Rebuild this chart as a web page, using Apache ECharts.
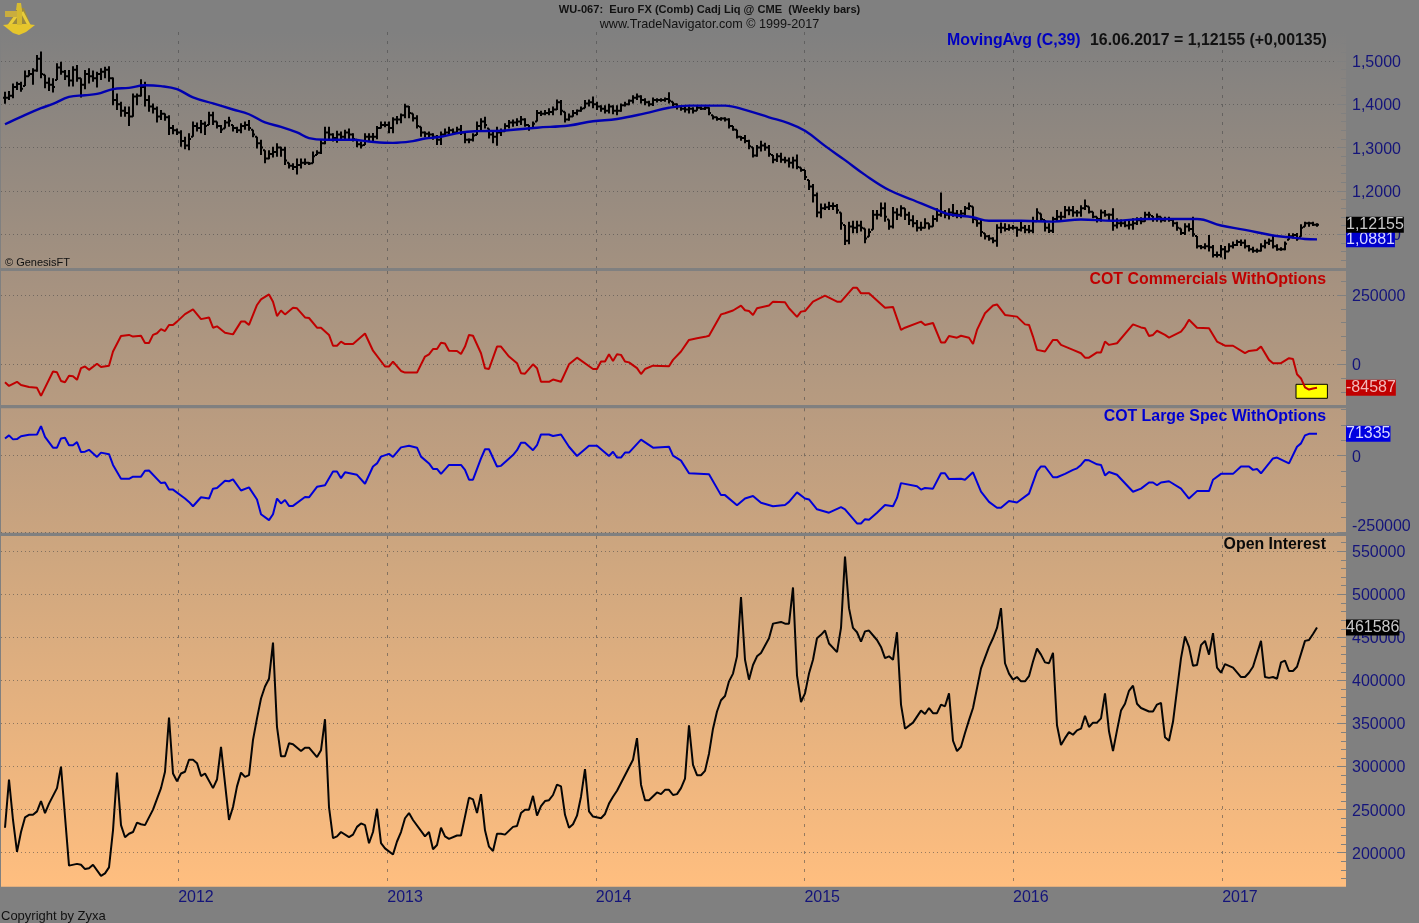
<!DOCTYPE html>
<html>
<head>
<meta charset="utf-8">
<title>Euro FX COT</title>
<script src="https://cdn.jsdelivr.net/npm/echarts@6/dist/echarts.min.js"></script>
<style>
    html, body {margin: 0; padding: 0; background: #808080;}
    #chartWrap {width: 1419px; height: 923px;}
</style>
</head>
<body>
<div id="chartWrap"></div>
<script>
// weekly bars, week 0 = 2011-03-04, week 328 = 2017-06-16. prices in 1/1000
const priceHigh = [
    1429,1431,1448,1452,1452,1478,1479,1483,1514,1522,1468,1462,1460,1495,1498,1479,1479,1488,1491,1460,
    1479,1483,1478,1475,1483,1487,1488,1462,1425,1406,1395,1395,1425,1425,1458,1452,1421,1402,1395,1387,
    1379,1375,1352,1344,1340,1325,1333,1360,1358,1364,1360,1383,1383,1360,1352,1364,1371,1352,1348,1356,
    1360,1364,1341,1325,1318,1294,1294,1302,1310,1302,1302,1265,1264,1275,1275,1275,1267,1291,1294,1318,
    1348,1348,1333,1339,1337,1341,1344,1333,1318,1314,1333,1333,1334,1350,1360,1360,1360,1370,1373,1379,
    1401,1396,1379,1375,1348,1337,1337,1333,1329,1337,1344,1348,1344,1348,1352,1337,1321,1333,1360,1368,
    1371,1344,1337,1348,1344,1356,1364,1365,1368,1373,1368,1352,1360,1387,1385,1387,1391,1395,1411,1410,
    1383,1379,1387,1388,1395,1410,1411,1418,1406,1398,1398,1401,1398,1398,1402,1406,1411,1421,1425,1421,
    1414,1408,1416,1414,1414,1416,1428,1406,1402,1395,1395,1395,1393,1396,1395,1395,1393,1375,1371,1370,
    1370,1368,1350,1341,1327,1329,1318,1301,1306,1316,1311,1306,1283,1287,1288,1279,1277,1279,1284,1254,
    1248,1225,1216,1196,1171,1171,1175,1173,1170,1150,1121,1129,1131,1131,1131,1113,1113,1156,1156,1173,
    1173,1134,1163,1160,1167,1160,1152,1144,1133,1129,1137,1125,1144,1160,1196,1156,1160,1170,1156,1156,
    1165,1173,1164,1134,1133,1102,1098,1093,1123,1127,1125,1123,1121,1117,1133,1121,1121,1140,1160,1148,
    1133,1125,1140,1156,1152,1165,1164,1165,1156,1167,1180,1164,1152,1140,1157,1156,1148,1160,1137,1134,
    1133,1133,1137,1139,1139,1152,1152,1142,1148,1140,1140,1140,1137,1129,1113,1125,1125,1140,1096,1075,
    1079,1098,1075,1060,1075,1073,1079,1083,1087,1088,1088,1075,1071,1067,1079,1087,1090,1098,1077,1070,
    1083,1102,1102,1103,1123,1129,1129,1129,1125
];
const priceLow = [
    1401,1410,1414,1433,1429,1442,1465,1445,1475,1460,1437,1431,1427,1456,1468,1456,1441,1441,1452,1416,
    1435,1448,1452,1439,1456,1460,1452,1398,1387,1371,1371,1350,1371,1398,1418,1395,1383,1379,1358,1364,
    1362,1329,1331,1329,1302,1296,1294,1325,1337,1333,1329,1352,1352,1344,1334,1344,1348,1337,1334,1333,
    1341,1339,1324,1298,1283,1264,1273,1277,1279,1279,1260,1252,1248,1238,1252,1260,1260,1264,1283,1285,
    1308,1318,1314,1311,1316,1319,1318,1314,1301,1298,1306,1314,1314,1319,1344,1347,1333,1333,1354,1356,
    1368,1368,1360,1344,1325,1324,1324,1318,1306,1306,1325,1329,1329,1333,1329,1310,1310,1314,1329,1337,
    1344,1321,1310,1304,1327,1337,1344,1348,1350,1352,1348,1339,1344,1360,1373,1375,1375,1375,1387,1375,
    1358,1362,1371,1375,1383,1391,1395,1391,1387,1383,1379,1379,1377,1375,1383,1395,1398,1402,1410,1402,
    1398,1395,1396,1404,1406,1406,1402,1396,1388,1385,1381,1379,1379,1385,1387,1387,1375,1365,1362,1362,
    1360,1344,1339,1321,1316,1310,1296,1277,1279,1291,1293,1279,1264,1267,1265,1264,1254,1252,1250,1244,
    1225,1202,1173,1139,1137,1156,1156,1156,1147,1110,1075,1077,1102,1102,1106,1079,1094,1110,1134,1140,
    1129,1110,1113,1133,1140,1133,1121,1116,1106,1108,1113,1111,1117,1129,1140,1137,1134,1140,1137,1137,
    1144,1156,1125,1117,1094,1088,1085,1079,1071,1102,1106,1108,1110,1094,1106,1102,1102,1102,1129,1129,
    1106,1103,1103,1129,1133,1137,1144,1140,1140,1140,1156,1148,1137,1127,1129,1140,1133,1108,1113,1117,
    1116,1111,1110,1121,1123,1129,1133,1129,1129,1127,1129,1129,1117,1108,1098,1098,1106,1094,1067,1065,
    1065,1060,1046,1046,1046,1042,1060,1067,1073,1073,1067,1060,1057,1057,1060,1067,1075,1067,1062,1062,
    1063,1087,1090,1085,1094,1117,1117,1119,1117
];
const priceClose = [
    1415,1420,1440,1447,1436,1465,1470,1478,1505,1470,1450,1445,1440,1485,1475,1465,1455,1480,1460,1445,
    1470,1465,1460,1470,1475,1480,1460,1410,1400,1385,1380,1372,1418,1420,1440,1410,1395,1390,1372,1378,
    1370,1345,1340,1335,1315,1305,1320,1350,1345,1355,1350,1375,1360,1350,1342,1358,1362,1345,1340,1350,
    1352,1345,1330,1310,1300,1275,1285,1290,1300,1295,1270,1258,1255,1260,1265,1265,1263,1280,1288,1310,
    1335,1330,1322,1330,1325,1335,1330,1320,1308,1305,1325,1325,1325,1345,1352,1352,1345,1365,1365,1375,
    1395,1380,1368,1350,1335,1332,1330,1325,1318,1330,1335,1340,1335,1342,1335,1318,1318,1328,1350,1360,
    1352,1330,1325,1335,1338,1350,1358,1358,1360,1365,1352,1345,1355,1380,1378,1380,1382,1388,1405,1385,
    1365,1372,1380,1385,1390,1402,1405,1400,1395,1390,1385,1395,1385,1385,1398,1400,1408,1415,1418,1410,
    1405,1400,1410,1410,1410,1412,1408,1400,1395,1390,1388,1390,1385,1392,1390,1392,1380,1370,1366,1367,
    1365,1350,1342,1325,1322,1315,1303,1282,1300,1305,1300,1285,1272,1280,1272,1270,1265,1270,1255,1248,
    1232,1210,1190,1150,1160,1162,1165,1165,1155,1125,1085,1118,1115,1120,1115,1090,1105,1145,1145,1160,
    1140,1118,1150,1145,1160,1145,1132,1125,1115,1115,1125,1118,1135,1145,1150,1145,1150,1148,1145,1148,
    1160,1165,1135,1125,1105,1095,1090,1085,1115,1115,1112,1115,1115,1110,1115,1110,1108,1130,1150,1135,
    1115,1108,1135,1140,1140,1155,1155,1150,1150,1160,1165,1152,1140,1135,1150,1145,1145,1120,1125,1125,
    1120,1122,1125,1132,1130,1145,1145,1135,1140,1132,1135,1133,1125,1115,1103,1118,1112,1100,1072,1070,
    1072,1070,1052,1052,1065,1060,1072,1075,1082,1080,1072,1065,1062,1062,1072,1080,1085,1072,1065,1065,
    1078,1095,1098,1090,1115,1125,1125,1122,1122
];
// [week, value in 1/1000]
const movingAvgPoints = [
    [0,1354],[4,1371],[9,1391],[12,1401],[16,1417],[20,1421],[23,1424],[27,1435],[31,1438],[35,1444],
    [39,1442],[43,1435],[47,1416],[52,1402],[57,1388],[61,1377],[65,1358],[69,1348],[73,1335],[76,1322],
    [80,1318],[87,1318],[91,1314],[97,1311],[102,1315],[105,1321],[109,1325],[114,1335],[118,1338],
    [124,1339],[133,1346],[141,1351],[147,1361],[153,1366],[160,1379],[166,1392],[171,1397],[180,1397],
    [185,1387],[191,1370],[196,1356],[200,1339],[205,1304],[210,1271],[215,1237],[221,1202],[227,1179],
    [233,1156],[236,1146],[242,1139],[246,1131],[254,1131],[262,1129],[269,1134],[277,1131],[285,1135],
    [298,1135],[304,1120],[310,1110],[317,1097],[322,1092],[325,1089],[328,1088]
];
// [week, contracts in thousands]
const commercialPoints = [
    [0,-65],[1,-78],[3,-63],[4,-75],[6,-82],[8,-85],[9,-114],[12,-26],[13,-29],[14,-60],[15,-65],[16,-41],
    [17,-43],[18,-56],[19,-14],[20,-8],[21,-20],[23,2],[24,-10],[26,-5],[27,46],[29,102],[31,106],[32,100],
    [34,103],[35,77],[36,77],[37,106],[38,112],[39,127],[40,120],[41,142],[42,142],[43,154],[45,181],[47,198],
    [49,163],[51,169],[52,132],[53,137],[55,114],[57,108],[59,154],[60,154],[61,142],[63,214],[64,234],[66,252],
    [67,226],[68,174],[69,194],[70,180],[72,204],[73,202],[75,169],[76,167],[78,132],[79,132],[81,106],[82,67],
    [83,67],[84,82],[85,73],[87,73],[90,111],[92,49],[95,-8],[96,-8],[97,10],[99,-24],[100,-30],[103,-30],
    [105,28],[106,36],[107,55],[108,55],[109,78],[110,75],[111,49],[113,48],[114,37],[115,64],[116,106],[117,103],
    [119,40],[120,-14],[121,-17],[123,64],[124,64],[126,28],[128,4],[129,-32],[130,-34],[132,0],[133,-14],[134,-63],
    [136,-63],[137,-55],[139,-63],[141,0],[143,24],[147,-17],[148,-17],[149,10],[150,10],[151,36],[152,12],[153,36],
    [154,34],[155,10],[156,7],[158,-14],[159,-35],[160,-17],[162,-5],[166,-7],[167,16],[169,46],[171,88],[173,94],
    [175,99],[176,103],[179,180],[180,184],[182,194],[184,212],[185,195],[186,192],[187,178],[188,202],[191,212],
    [192,226],[195,224],[196,202],[198,171],[199,190],[200,192],[202,226],[205,248],[208,226],[209,226],[212,276],
    [213,276],[214,256],[216,256],[220,204],[222,207],[224,124],[225,132],[229,154],[230,142],[232,149],[234,79],
    [235,79],[236,102],[238,96],[239,103],[241,96],[242,73],[243,124],[245,184],[247,212],[248,216],[250,178],
    [253,172],[255,144],[256,142],[257,100],[258,52],[260,46],[262,88],[263,88],[264,70],[267,52],[269,40],[270,24],
    [271,24],[273,43],[274,43],[275,82],[276,70],[278,76],[282,144],[284,133],[285,130],[286,102],[287,106],[288,121],
    [290,106],[291,96],[294,118],[295,136],[296,161],[298,132],[301,130],[303,82],[305,67],[307,67],[310,40],[311,48],
    [313,52],[314,64],[316,16],[317,4],[319,4],[321,22],[322,19],[323,-36],[324,-51],[325,-83],[326,-91],[327,-87],
    [328,-84.587]
];
const largeSpecPoints = [
    [0,56],[1,66],[2,53],[3,54],[4,63],[6,68],[8,69],[9,96],[10,61],[12,26],[13,26],[14,56],[15,58],[16,34],[17,34],
    [18,44],[19,12],[20,13],[21,19],[23,-4],[24,10],[26,5],[27,-30],[29,-75],[31,-75],[32,-68],[34,-68],[35,-49],
    [36,-48],[39,-89],[40,-87],[41,-110],[42,-110],[45,-139],[46,-150],[47,-164],[49,-135],[51,-139],[52,-107],
    [53,-105],[55,-81],[56,-83],[57,-77],[59,-113],[61,-103],[63,-142],[64,-190],[66,-209],[67,-190],[68,-139],
    [69,-155],[70,-144],[71,-163],[72,-163],[75,-134],[76,-135],[78,-101],[80,-96],[82,-51],[83,-51],[84,-73],
    [85,-54],[88,-62],[90,-91],[92,-35],[93,-25],[94,-3],[96,6],[97,-4],[99,27],[101,32],[103,26],[104,-3],[106,-25],
    [107,-43],[108,-43],[109,-59],[111,-30],[114,-30],[115,-46],[116,-78],[117,-78],[119,-9],[120,21],[121,21],
    [123,-35],[124,-33],[127,2],[128,18],[129,42],[130,42],[132,18],[133,34],[134,69],[136,69],[137,64],[139,69],
    [141,29],[143,-1],[146,32],[148,32],[151,-1],[152,13],[153,-6],[154,-6],[155,10],[156,10],[159,52],[162,26],
    [166,29],[167,0],[169,-16],[171,-57],[176,-60],[179,-128],[180,-128],[183,-161],[185,-139],[187,-131],[189,-153],
    [192,-164],[195,-160],[196,-150],[198,-119],[200,-139],[201,-142],[203,-174],[206,-185],[209,-167],[210,-174],
    [213,-220],[214,-220],[215,-206],[216,-208],[218,-185],[220,-160],[222,-164],[223,-137],[224,-89],[228,-99],
    [229,-110],[230,-105],[232,-107],[234,-57],[235,-57],[236,-76],[239,-75],[240,-78],[242,-54],[244,-117],
    [246,-150],[248,-169],[249,-169],[251,-147],[253,-152],[256,-123],[258,-51],[259,-35],[260,-35],[262,-70],
    [263,-70],[265,-59],[267,-46],[268,-41],[269,-30],[270,-14],[271,-15],[273,-28],[274,-30],[275,-64],[276,-53],
    [278,-62],[282,-117],[284,-107],[286,-87],[287,-87],[288,-96],[289,-87],[291,-83],[294,-107],[296,-139],[298,-115],
    [301,-115],[302,-78],[304,-59],[307,-59],[309,-35],[311,-35],[312,-46],[313,-43],[314,-57],[317,-9],[318,-6],
    [321,-25],[323,29],[324,40],[325,66],[326,71],[328,71.335]
];
const openInterestPoints = [
    [0,229],[1,285],[2,238],[3,201],[4,224],[5,241],[6,244],[7,244],[8,248],[9,260],[10,246],[11,257],[12,266],[13,275],
    [14,300],[15,242],[16,185],[18,187],[19,186],[20,181],[21,182],[22,186],[24,173],[25,176],[26,183],[27,226],[28,293],
    [29,232],[30,218],[31,222],[32,224],[33,235],[34,233],[35,232],[37,250],[39,275],[40,294],[41,357],[42,292],[43,283],
    [44,292],[45,294],[46,308],[47,308],[48,304],[49,289],[50,292],[52,275],[53,285],[54,323],[56,238],[57,253],[58,277],
    [59,293],[60,288],[61,290],[62,331],[63,356],[64,379],[65,393],[66,402],[67,444],[68,346],[69,312],[70,312],[71,327],
    [72,326],[74,318],[75,322],[76,322],[78,311],[79,319],[80,355],[81,253],[82,217],[83,219],[84,224],[86,218],[87,221],
    [88,230],[89,234],[90,232],[91,211],[92,224],[93,251],[94,211],[95,205],[97,198],[98,213],[99,224],[100,240],[101,246],
    [102,238],[105,219],[106,224],[107,204],[108,209],[109,229],[110,219],[111,216],[113,220],[114,220],[116,264],[117,262],
    [118,246],[119,268],[120,226],[121,207],[122,202],[123,222],[124,222],[125,221],[127,230],[128,231],[129,246],[130,250],
    [131,250],[132,266],[133,243],[134,254],[135,260],[136,261],[137,267],[138,279],[139,277],[140,244],[141,229],[142,233],
    [143,243],[144,265],[145,297],[146,248],[147,242],[149,240],[150,245],[151,257],[152,265],[153,272],[155,290],[157,308],
    [158,333],[159,279],[160,261],[161,261],[163,270],[164,268],[165,273],[166,273],[167,267],[168,268],[169,275],[170,286],
    [171,348],[172,302],[173,290],[174,290],[175,295],[176,315],[177,344],[178,364],[179,377],[180,382],[181,399],[182,408],
    [183,428],[184,497],[185,424],[186,401],[187,418],[188,428],[189,432],[191,449],[192,466],[194,468],[195,466],[196,466],
    [197,508],[198,406],[199,375],[200,385],[201,408],[202,424],[203,449],[204,453],[205,458],[206,443],[208,433],[209,461],
    [210,544],[211,484],[212,461],[213,456],[214,445],[215,457],[216,458],[218,447],[219,439],[220,426],[221,428],[222,424],
    [223,456],[224,372],[225,344],[227,351],[229,365],[230,361],[231,368],[232,362],[233,362],[234,372],[235,370],[236,385],
    [237,330],[238,318],[239,323],[240,339],[241,354],[242,368],[244,414],[246,439],[247,449],[248,461],[249,484],[250,420],
    [251,408],[252,401],[253,404],[254,399],[255,399],[256,405],[257,422],[258,437],[259,430],[260,421],[261,420],[262,432],
    [263,348],[264,325],[265,333],[266,340],[267,337],[268,342],[269,344],[270,359],[271,346],[272,351],[273,351],[274,356],
    [275,385],[276,341],[277,318],[278,342],[279,365],[280,373],[281,388],[282,394],[283,373],[284,368],[286,364],[287,364],
    [288,372],[289,374],[290,334],[291,330],[292,352],[293,389],[294,426],[295,451],[296,439],[297,417],[298,418],[299,441],
    [300,446],[301,430],[302,455],[303,415],[304,409],[305,419],[307,415],[309,404],[310,404],[311,409],[312,416],[314,446],
    [315,404],[316,403],[317,404],[318,402],[319,421],[320,423],[321,411],[322,411],[323,416],[325,446],[326,447],[327,454],
    [328,461.586]
];
const yearTicks = [2012, 2013, 2014, 2015, 2016, 2017];
const priceTicks = [1.1, 1.2, 1.3, 1.4, 1.5];
const priceMinorTicks = [1.04, 1.06, 1.08, 1.12, 1.14, 1.16, 1.18, 1.22, 1.24, 1.26, 1.28, 1.32, 1.34, 1.36, 1.38, 1.42, 1.44, 1.46, 1.48, 1.52, 1.54, 1.56];
const commercialTicks = [0, 250000];
const commercialMinorTicks = [-100000, -50000, 50000, 100000, 150000, 200000, 300000];
const largeSpecTicks = [-250000, 0];
const largeSpecMinorTicks = [-200000, -150000, -100000, -50000, 50000, 100000, 150000];
const openInterestTicks = [200000, 250000, 300000, 350000, 400000, 450000, 500000, 550000];
const openInterestMinorTicks = [170000, 180000, 190000, 210000, 220000, 230000, 240000, 260000, 270000, 280000, 290000, 310000, 320000, 330000, 340000, 360000, 370000, 380000, 390000, 410000, 420000, 430000, 440000, 460000, 470000, 480000, 490000, 510000, 520000, 530000, 540000, 560000];

const WEEK = 7 * 24 * 3600 * 1000;
const firstWeek = new Date(2011, 2, 4).getTime();
const weekDate = function (w) {
    return firstWeek + w * WEEK;
};
const yearStarts = yearTicks.map(function (y) {
    return new Date(y, 0, 1).getTime();
});

const priceBars = priceHigh.map(function (high, i) {
    const low = priceLow[i] / 1000;
    const close = priceClose[i] / 1000;
    const prev = i > 0 ? priceClose[i - 1] / 1000 : close;
    const open = Math.min(high / 1000, Math.max(low, prev));
    return [weekDate(i), open, close, low, high / 1000];
});

const toLine = function (points, scale) {
    return points.map(function (p) {
        return [weekDate(p[0]), p[1] * scale];
    });
};

function renderPriceBar(params, api) {
    const t = api.value(0);
    const top = api.coord([t, api.value(4)]);
    const bottom = api.coord([t, api.value(3)]);
    const open = api.coord([t, api.value(1)]);
    const close = api.coord([t, api.value(2)]);
    const x = Math.round(top[0]);
    const style = {stroke: '#000', lineWidth: 2, fill: null};
    return {
        type: 'group',
        children: [
            {type: 'line', shape: {x1: x, y1: top[1], x2: x, y2: bottom[1]}, style: style},
            {type: 'line', shape: {x1: x - 2, y1: open[1], x2: x, y2: open[1]}, style: style},
            {type: 'line', shape: {x1: x, y1: close[1], x2: x + 2, y2: close[1]}, style: style}
        ]
    };
}

// background runs gray -> orange over all the panels
function panelFill(top, bottom) {
    const mix = function (y) {
        const k = (y - 32) / 855;
        return 'rgb(' + Math.round(128 + 127 * k) + ',' + Math.round(128 + 62 * k) + ',' + Math.round(128 - k) + ')';
    };
    return {
        type: 'linear', x: 0, y: 0, x2: 0, y2: 1,
        colorStops: [{offset: 0, color: mix(top)}, {offset: 1, color: mix(bottom)}]
    };
}

const panels = [
    {top: 32, bottom: 268, min: 1.0219, max: 1.567, ticks: priceTicks, minor: priceMinorTicks,
        tags: [{v: 1.0881, text: '1,0881', bg: '#0000cc', color: '#d8d8ff'}, {v: 1.12155, text: '1,12155', bg: '#000000', color: '#c8c8c8'}],
        fmt: function (v) { return v.toFixed(4).replace('.', ','); }},
    {top: 271, bottom: 405, min: -146830, max: 336580, ticks: commercialTicks, minor: commercialMinorTicks,
        tags: [{v: -84587, text: '-84587', bg: '#c00000', color: '#f0b8b8'}],
        fmt: function (v) { return String(v); }},
    {top: 408.3, bottom: 532.7, min: -250000, max: 153900, ticks: largeSpecTicks, minor: largeSpecMinorTicks,
        tags: [{v: 71335, text: '71335', bg: '#0000e0', color: '#d8d8ff'}],
        fmt: function (v) { return String(v); }},
    {top: 536, bottom: 886.7, min: 160520, max: 567770, ticks: openInterestTicks, minor: openInterestMinorTicks,
        tags: [{v: 461586, text: '461586', bg: '#000000', color: '#c8c8c8'}],
        fmt: function (v) { return String(v); }}
];

const labelFont = {color: '#14147a', fontSize: 16, fontFamily: 'Liberation Sans'};

const grids = [];
const xAxes = [];
const yAxes = [];
panels.forEach(function (p, idx) {
    grids.push({
        show: true, left: 1, right: 73, top: p.top, height: p.bottom - p.top,
        borderWidth: 0, backgroundColor: panelFill(p.top, p.bottom)
    });
    xAxes.push({
        type: 'value', gridIndex: idx,
        min: weekDate(-1), max: weekDate(335.25),
        axisLine: {show: false},
        axisTick: {show: false, customValues: yearStarts},
        splitLine: {show: true, lineStyle: {color: 'rgba(70,70,70,0.55)', type: [3, 6], width: 1}},
        axisLabel: Object.assign({}, labelFont, {
            show: idx === 3, align: 'left', margin: 3,
            customValues: yearStarts,
            formatter: function (v) { return String(new Date(v).getFullYear()); }
        })
    });
    const base = {
        type: 'value', gridIndex: idx, position: 'right', min: p.min, max: p.max,
        axisLine: {show: false}
    };
    p.axis = yAxes.length;
    // major ticks, labels and dotted lines
    yAxes.push(Object.assign({}, base, {
        axisTick: {show: true, inside: true, length: 9, customValues: p.ticks, lineStyle: {color: '#808080'}},
        splitLine: {show: true, lineStyle: {color: 'rgba(70,70,70,0.55)', type: [1, 3], width: 1}},
        axisLabel: {
            margin: 6,
            showMinLabel: true, showMaxLabel: true,
            customValues: p.ticks,
            formatter: function (v) {
                return (v === -250000 ? '{low|' : '{tick|') + p.fmt(v) + '}';
            },
            verticalAlignMinLabel: idx === 2 ? 'bottom' : null,
            rich: {
                tick: Object.assign({padding: [3, 0, 0, 0]}, labelFont),
                low: Object.assign({lineHeight: 12}, labelFont)
            }
        }
    }));
    // minor ticks
    yAxes.push(Object.assign({}, base, {
        axisTick: {show: true, inside: true, length: 5, customValues: p.minor, lineStyle: {color: '#808080'}},
        splitLine: {show: false},
        axisLabel: {show: false}
    }));
    // last value tags, one axis each so they can overlap
    p.tags.forEach(function (tag) {
        yAxes.push(Object.assign({}, base, {
            z: 20,
            axisTick: {show: false, customValues: [tag.v]},
            splitLine: {show: false},
            axisLabel: {
                margin: 0,
                customValues: [tag.v],
                formatter: function () { return '{tag|' + tag.text + '}'; },
                rich: {
                    tag: {
                        backgroundColor: tag.bg, color: tag.color, fontSize: 16,
                        fontFamily: 'Liberation Sans', lineHeight: 17
                    }
                }
            }
        }));
    });
});

const textEl = function (x, y, text, font, fill, align) {
    return {
        type: 'text', x: x, y: y, z: 30,
        style: {text: text, font: font, fill: fill, textAlign: align || 'left', textVerticalAlign: 'middle'}
    };
};
const boldFont = 'bold 15.9px "Liberation Sans"';

// sextant logo
const logo = {
    type: 'group', x: 0, y: 0, z: 30,
    children: [
        {type: 'polygon', shape: {points: [[17, 8], [24, 8], [31, 26], [7, 26]]}, style: {fill: '#9c8a3c'}},
        {type: 'line', shape: {x1: 8, y1: 27, x2: 19, y2: 12}, style: {stroke: '#e8cc3a', lineWidth: 3}},
        {type: 'line', shape: {x1: 30, y1: 27, x2: 22, y2: 12}, style: {stroke: '#e8cc3a', lineWidth: 3}},
        {type: 'polygon', shape: {points: [[3, 25], [12, 24], [26, 24], [35, 25], [26, 32], [19, 35], [13, 33]]}, style: {fill: '#e6c62c'}},
        {type: 'polygon', shape: {points: [[17, 3], [21, 3], [22, 10], [16, 10]]}, style: {fill: '#d8bc30'}},
        {type: 'rect', shape: {x: 5, y: 11, width: 13, height: 6}, style: {fill: '#c9ad3e'}},
        {type: 'rect', shape: {x: 17, y: 10, width: 5, height: 15}, style: {fill: '#d4b830'}}
    ]
};

const option = {
    backgroundColor: '#808080',
    animation: false,
    grid: grids,
    xAxis: xAxes,
    yAxis: yAxes,
    graphic: [
        logo,
        textEl(709.5, 10, 'WU-067:  Euro FX (Comb) Cadj Liq @ CME  (Weekly bars)', 'bold 11.1px "Liberation Sans"', '#111', 'center'),
        textEl(709.5, 25, 'www.TradeNavigator.com © 1999-2017', '12.6px "Liberation Sans"', '#111', 'center'),
        textEl(947, 41, 'MovingAvg (C,39)', boldFont, '#0000c0'),
        textEl(1090, 41, '16.06.2017 = 1,12155 (+0,00135)', boldFont, '#111'),
        textEl(5, 263, '© GenesisFT', '11px "Liberation Sans"', '#111'),
        textEl(1326, 280, 'COT Commercials WithOptions', boldFont, '#c00000', 'right'),
        textEl(1326, 417, 'COT Large Spec WithOptions', boldFont, '#0000d0', 'right'),
        textEl(1326, 545, 'Open Interest', boldFont, '#0a0a0a', 'right'),
        textEl(1, 916, 'Copyright by Zyxa', '13px "Liberation Sans"', '#111')
    ],
    series: [
        {
            name: 'Euro FX', type: 'custom', xAxisIndex: 0, yAxisIndex: panels[0].axis,
            renderItem: renderPriceBar, data: priceBars, clip: true,
            encode: {x: 0, y: [1, 2, 3, 4]}
        },
        {
            name: 'MovingAvg (C,39)', type: 'line', xAxisIndex: 0, yAxisIndex: panels[0].axis, showSymbol: false, z: 5, smooth: 0.4,
            data: toLine(movingAvgPoints, 0.001), lineStyle: {color: '#0000b0', width: 2.4}
        },
        {
            name: 'COT Commercials WithOptions', type: 'line', xAxisIndex: 1, yAxisIndex: panels[1].axis, showSymbol: false,
            data: toLine(commercialPoints, 1000), lineStyle: {color: '#c00000', width: 2},
            markArea: {
                silent: true,
                itemStyle: {color: '#ffff00', borderColor: '#000', borderWidth: 1},
                data: [[{coord: [weekDate(322.75), -72150]}, {coord: [weekDate(330.6), -122650]}]]
            }
        },
        {
            name: 'COT Large Spec WithOptions', type: 'line', xAxisIndex: 2, yAxisIndex: panels[2].axis, showSymbol: false,
            data: toLine(largeSpecPoints, 1000), lineStyle: {color: '#0000d8', width: 2}
        },
        {
            name: 'Open Interest', type: 'line', xAxisIndex: 3, yAxisIndex: panels[3].axis, showSymbol: false,
            data: toLine(openInterestPoints, 1000), lineStyle: {color: '#050505', width: 2}
        }
    ]
};

const myChart = echarts.init(document.getElementById('chartWrap'));
myChart.setOption(option);
</script>
</body>
</html>
